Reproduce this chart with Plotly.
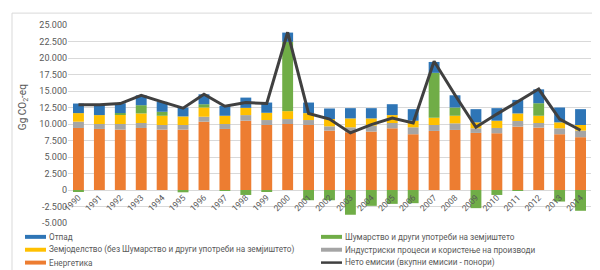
import plotly.graph_objects as go

years = [str(y) for y in range(1990, 2015)]

energy = [9400, 9250, 9150, 9400, 9150, 9150, 10350, 9250, 10500, 9850, 10000, 9850, 9000,
          8750, 8850, 9350, 8450, 8950, 9100, 8650, 8600, 9600, 9450, 8450, 8000]
industry = [950, 750, 850, 750, 700, 700, 750, 750, 850, 750, 750, 750, 650,
            750, 900, 800, 1050, 900, 1000, 700, 800, 850, 700, 900, 1000]
agriculture = [1300, 1350, 1450, 1450, 1400, 1300, 1400, 1250, 1100, 1100, 1200, 1050, 1100,
               1350, 1100, 1200, 1000, 1100, 1150, 900, 1100, 1150, 1100, 900, 850]
forestry = [-250, 0, 200, 1250, 600, -350, 500, -150, -750, -250, 10500, -1550, -1550,
            -3750, -2400, -2100, -2000, 6800, 1250, -2750, -750, -150, 1900, -1750, -3150]
waste = [1450, 1650, 1500, 1500, 1500, 1350, 1500, 1500, 1550, 1550, 1400, 1600, 1600,
         1550, 1550, 1650, 1750, 1650, 1850, 2000, 1900, 2050, 2100, 2250, 2400]
net = [12900, 12900, 13100, 14350, 13350, 12400, 14500, 12700, 13250, 13100, 23900, 11600, 10750,
       8650, 9900, 10900, 10150, 19500, 14400, 9500, 11500, 13400, 15300, 10750, 9050]

tick_vals = [-5000, -2500, 0, 2500, 5000, 7500, 10000, 12500, 15000, 17500, 20000, 22500, 25000]
tick_text = ["-5.000", "-2.500", "0", "2.500", "5.000", "7.500", "10.000", "12.500",
             "15.000", "17.500", "20.000", "22.500", "25.000"]

names = ["Енергетика", "Индустриски процеси и користење на производи",
         "Земјоделство (без Шумарство и други употреби на земјиштето)",
         "Шумарство и други употреби на земјиштето", "Отпад",
         "Нето емисии (вкупни емисии - понори)"]
colors = ["#ED7D31", "#A5A5A5", "#FFC000", "#70AD47", "#2E75B6", "#404040"]

FONT = "Roboto"
TXT = "#595959"

fig = go.Figure()
for vals, name, col in zip([energy, industry, agriculture, forestry, waste], names, colors):
    fig.add_trace(go.Bar(x=years, y=vals, name=name, marker_color=col,
                         marker_line_width=0, showlegend=False))
fig.add_trace(go.Scatter(x=years, y=net, name=names[5], mode="lines",
                         line=dict(color=colors[5], width=3), showlegend=False))

# pixel -> paper helpers (plot area 60..583 x 15..215)
def px(x):
    return (x - 60) / 523.0

def py(y):
    return (215 - y) / 200.0

shapes = []
annotations = []

# chart border
shapes.append(dict(type="rect", xref="paper", yref="paper", x0=px(4), x1=px(597),
                   y0=py(3), y1=py(267), line=dict(color="#d9d9d9", width=1)))

# legend (two columns)
legend_items = [(4, 17, 229), (2, 17, 242), (0, 17, 255),
                (3, 313, 229), (1, 313, 242), (5, 313, 255)]
for idx, x0, y0 in legend_items:
    if idx == 5:
        shapes.append(dict(type="line", xref="paper", yref="paper", x0=px(x0), x1=px(x0 + 21),
                           y0=py(y0), y1=py(y0), line=dict(color=colors[idx], width=2.5)))
    else:
        shapes.append(dict(type="rect", xref="paper", yref="paper", x0=px(x0), x1=px(x0 + 21),
                           y0=py(y0 - 2), y1=py(y0 + 2), line_width=0, fillcolor=colors[idx]))
    annotations.append(dict(xref="paper", yref="paper", x=px(x0 + 22), y=py(y0), text=names[idx],
                            showarrow=False, xanchor="left", yanchor="middle",
                            font=dict(family=FONT, size=8.2, color=TXT)))

# y axis title
annotations.append(dict(xref="paper", yref="paper", x=px(15), y=py(98), text="Gg CO<sub>2</sub>-eq",
                        showarrow=False, textangle=-90, xanchor="center", yanchor="middle",
                        font=dict(family=FONT, size=10, color=TXT)))

fig.update_layout(
    barmode="relative",
    bargap=0.48,
    width=600, height=270,
    margin=dict(l=60, r=17, t=15, b=55),
    plot_bgcolor="white", paper_bgcolor="white",
    font=dict(family=FONT, size=9, color=TXT),
    shapes=shapes,
    annotations=annotations,
    xaxis=dict(type="category", anchor="free", position=5000 / 30000.0, tickangle=-45,
               showgrid=False, showline=False, ticks="", tickfont=dict(size=8.5, color=TXT),
               range=[-0.5, 24.5]),
    yaxis=dict(range=[-5000, 25000], tickvals=tick_vals, ticktext=tick_text,
               gridcolor="#d9d9d9", gridwidth=1, zeroline=True, zerolinecolor="#d9d9d9",
               zerolinewidth=1, showline=False, ticks="", tickfont=dict(size=9, color=TXT)),
)

fig.write_html("out.html")
